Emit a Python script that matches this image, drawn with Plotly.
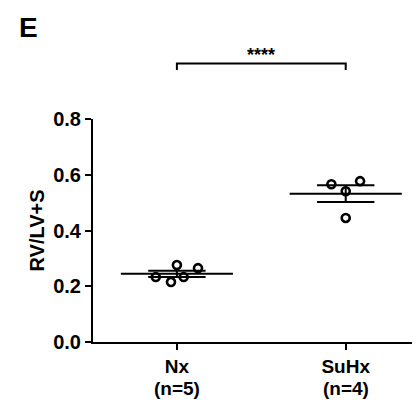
import numpy as np
import plotly.graph_objects as go

# ---- data ----
groups = ["Nx", "SuHx"]
group_n = ["(n=5)", "(n=4)"]
nx_values = [0.233, 0.215, 0.276, 0.233, 0.265]
suhx_values = [0.566, 0.541, 0.577, 0.445]
nx_offsets = [-0.125, -0.035, 0.0, 0.04, 0.125]
suhx_offsets = [-0.085, 0.0, 0.085, 0.0]
y_ticks = [0.0, 0.2, 0.4, 0.6, 0.8]
sig_label = "****"

FONT = "Liberation Sans, Arial, sans-serif"
series = [nx_values, suhx_values]
offsets = [nx_offsets, suhx_offsets]

# the page body has an 8px margin; figure is laid out in screen pixels minus 8
OFF = 8
W, HH = 420 - OFF, 404 - OFF
L, R, T, B = 93 - OFF, 0, 119 - OFF, HH - (342 - OFF)
H = HH - T - B

def py(px):  # screen pixel row -> paper y
    return (HH - B - (px - OFF)) / H

def px_x(px):  # screen pixel column -> paper x
    return (px - OFF - L) / (W - L - R)

fig = go.Figure()
mean_half = 0.332
sem_half = 0.17
for i, (vals, offs) in enumerate(zip(series, offsets)):
    xc = i + 1
    v = np.array(vals)
    m = v.mean()
    sem = v.std(ddof=1) / np.sqrt(len(v))
    fig.add_trace(go.Scatter(x=[xc - mean_half, xc + mean_half], y=[m, m], mode="lines",
                             line=dict(color="black", width=2), showlegend=False, hoverinfo="skip"))
    for yv in (m - sem, m + sem):
        fig.add_trace(go.Scatter(x=[xc - sem_half, xc + sem_half], y=[yv, yv], mode="lines",
                                 line=dict(color="black", width=2), showlegend=False, hoverinfo="skip"))
    fig.add_trace(go.Scatter(x=[xc, xc], y=[m - sem, m + sem], mode="lines",
                             line=dict(color="black", width=2), showlegend=False, hoverinfo="skip"))
    fig.add_trace(go.Scatter(x=[xc + o for o in offs], y=vals, mode="markers",
                             marker=dict(symbol="circle-open", size=8, color="black",
                                         line=dict(color="black", width=2.6)),
                             showlegend=False))
    # second line of the category label
    fig.add_annotation(x=xc, y=py(388), xref="x", yref="paper", text="<b>%s</b>" % group_n[i],
                       showarrow=False, yanchor="middle",
                       font=dict(family=FONT, size=19, color="black"))

# significance bracket
fig.add_shape(type="path", xref="x", yref="paper",
              path="M 1,%.4f L 1,%.4f L 2,%.4f L 2,%.4f" % (py(70), py(63.5), py(63.5), py(70)),
              line=dict(color="black", width=2))
fig.add_annotation(x=1.5, y=py(55), xref="x", yref="paper", text="<b>%s</b>" % sig_label,
                   showarrow=False, yanchor="middle", font=dict(family=FONT, size=18, color="black"))
# panel letter
fig.add_annotation(x=px_x(28), y=py(28), xref="paper", yref="paper", text="<b>E</b>",
                   showarrow=False, xanchor="center", yanchor="middle",
                   font=dict(family=FONT, size=28, color="black"))

fig.update_layout(
    width=W, height=HH,
    margin=dict(l=L, r=R, t=T, b=B, autoexpand=False),
    paper_bgcolor="white", plot_bgcolor="white",
    font=dict(family=FONT, size=19, color="black"),
    xaxis=dict(range=[0.503, 2.44], tickvals=[1, 2],
               ticktext=["<b>%s</b>" % g for g in groups],
               showline=True, linecolor="black", linewidth=2, ticks="outside", ticklen=6,
               tickwidth=2, tickcolor="black", showgrid=False, zeroline=False, automargin=False,
               tickfont=dict(family=FONT, size=19, color="black")),
    yaxis=dict(range=[0, 0.8], tickvals=y_ticks, ticktext=["<b>%.1f</b>" % t for t in y_ticks],
               showline=True, linecolor="black", linewidth=2, ticks="outside", ticklen=6,
               tickwidth=2, tickcolor="black", showgrid=False, zeroline=False, automargin=False,
               tickfont=dict(family=FONT, size=20, color="black"),
               title=dict(text="<b>RV/LV+S</b>", font=dict(family=FONT, size=20, color="black"),
                          standoff=3)),
)

fig.write_html("out.html")
